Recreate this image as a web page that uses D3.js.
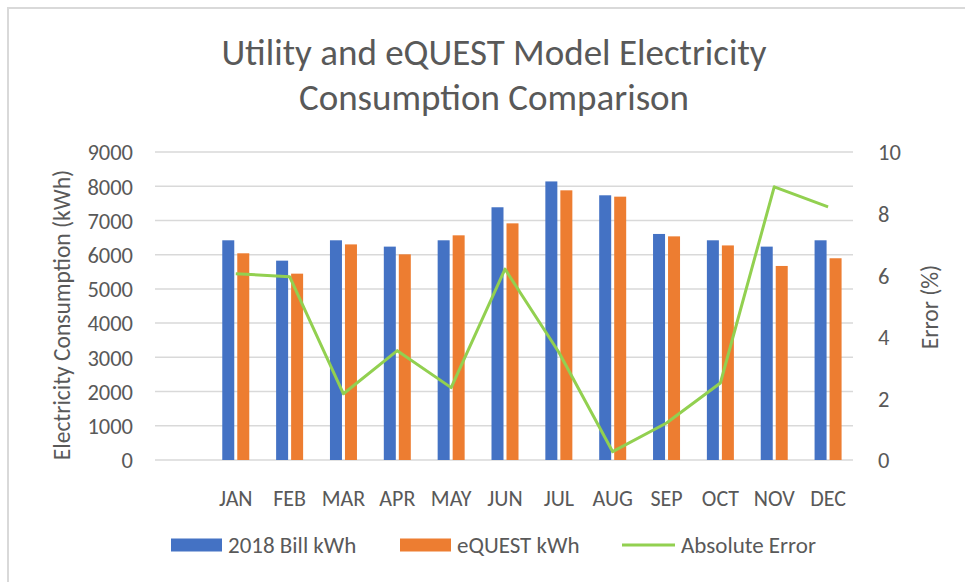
<!DOCTYPE html>
<html>
<head>
<meta charset="utf-8">
<script src="https://cdn.jsdelivr.net/npm/d3@7"></script>
<style>
  body { margin: 0; background: #fff; }
  svg text { font-family: Calibri, Carlito, Lato, sans-serif; fill: #595959; }
</style>
</head>
<body>
<svg id="Chart" width="965" height="582"></svg>
<script>
// data
var months = ["JAN", "FEB", "MAR", "APR", "MAY", "JUN", "JUL", "AUG", "SEP", "OCT", "NOV", "DEC"];
var billKwh = [6420, 5825, 6420, 6235, 6420, 7385, 8140, 7735, 6605, 6420, 6235, 6420];
var equestKwh = [6040, 5445, 6300, 6010, 6565, 6915, 7880, 7695, 6535, 6270, 5670, 5895];
var absError = [6.05, 5.95, 2.15, 3.55, 2.35, 6.2, 3.5, 0.27, 1.2, 2.5, 8.87, 8.22];
var kwhTicks = [0, 1000, 2000, 3000, 4000, 5000, 6000, 7000, 8000, 9000];
var errTicks = [0, 2, 4, 6, 8, 10];

var seriesNames = ["2018 Bill kWh", "eQUEST kWh", "Absolute Error"];
var colors = { bill: "#4472C4", equest: "#ED7D31", err: "#92D050" };

var svg = d3.select("#Chart"),
    width = +svg.attr("width"),
    height = +svg.attr("height");

var plot = { left: 155, right: 855, top: 152, bottom: 460 };

// frame
svg.append("path")
    .attr("d", "M8,582 L8,8 L965,8")
    .attr("fill", "none")
    .attr("stroke", "#D9D9D9")
    .attr("stroke-width", 2);

// the category axis has an empty first slot in the original
var x = d3.scaleBand()
    .domain([""].concat(months))
    .range([plot.left, plot.right]);

var inner = d3.scaleBand()
    .domain(["bill", "equest"])
    .range([-13.5, 13.5])
    .paddingInner(0.2);

var y = d3.scaleLinear().domain([0, 9000]).range([plot.bottom, plot.top]);
var y2 = d3.scaleLinear().domain([0, 10]).range([plot.bottom, plot.top]);

// title
var title = svg.append("text")
    .attr("text-anchor", "middle")
    .style("font-size", "37px");
title.append("tspan").attr("x", 494).attr("y", 65).text("Utility and eQUEST Model Electricity");
title.append("tspan").attr("x", 494).attr("y", 110).text("Consumption Comparison");

// gridlines
svg.append("g")
    .attr("class", "grid")
    .selectAll("line")
    .data(kwhTicks)
    .enter().append("line")
      .attr("x1", plot.left)
      .attr("x2", plot.right - 2)
      .attr("y1", d => y(d))
      .attr("y2", d => y(d))
      .attr("stroke", "#D9D9D9")
      .attr("stroke-width", 1.5);

// left axis
var leftAxis = svg.append("g")
    .attr("transform", "translate(" + (plot.left - 22) + ",0)")
    .call(d3.axisLeft(y).tickValues(kwhTicks).tickFormat(d3.format("d")).tickSize(0).tickPadding(0));
leftAxis.select(".domain").remove();
leftAxis.selectAll("text")
    .attr("dy", "0.35em")
    .style("font-size", "22.5px");

// right axis
var rightAxis = svg.append("g")
    .attr("transform", "translate(" + (plot.right + 23) + ",0)")
    .call(d3.axisRight(y2).tickValues(errTicks).tickFormat(d3.format("d")).tickSize(0).tickPadding(0));
rightAxis.select(".domain").remove();
rightAxis.selectAll("text")
    .attr("dy", "0.35em")
    .style("font-size", "22.5px");

// bottom axis
var bottomAxis = svg.append("g")
    .attr("transform", "translate(0," + plot.bottom + ")")
    .call(d3.axisBottom(x).tickValues(months).tickSize(0).tickPadding(0));
bottomAxis.select(".domain").remove();
bottomAxis.selectAll("text")
    .attr("y", 46)
    .attr("dy", 0)
    .style("font-size", "22px");

// axis titles
svg.append("text")
    .attr("transform", "translate(70,315) rotate(-90)")
    .attr("text-anchor", "middle")
    .style("font-size", "23.5px")
    .text("Electricity Consumption (kWh)");

svg.append("text")
    .attr("transform", "translate(938,307) rotate(-90)")
    .attr("text-anchor", "middle")
    .style("font-size", "23.5px")
    .text("Error (%)");

// bars
var rows = months.map(function (m, i) {
  return { month: m, bill: billKwh[i], equest: equestKwh[i], err: absError[i] };
});

var groups = svg.append("g")
    .selectAll("g")
    .data(rows)
    .enter().append("g")
      .attr("transform", d => "translate(" + (x(d.month) + x.bandwidth() / 2) + ",0)");

groups.selectAll("rect")
    .data(d => [{ key: "bill", value: d.bill }, { key: "equest", value: d.equest }])
    .enter().append("rect")
      .attr("x", d => inner(d.key))
      .attr("width", inner.bandwidth())
      .attr("y", d => y(d.value))
      .attr("height", d => y(0) - y(d.value))
      .attr("fill", d => colors[d.key]);

// error line
var line = d3.line()
    .x(d => x(d.month) + x.bandwidth() / 2)
    .y(d => y2(d.err));

svg.append("path")
    .datum(rows)
    .attr("d", line)
    .attr("fill", "none")
    .attr("stroke", colors.err)
    .attr("stroke-width", 3)
    .attr("stroke-linejoin", "round");

// legend
var legendItems = [
  { name: seriesNames[0], key: "bill", type: "rect", x: 171 },
  { name: seriesNames[1], key: "equest", type: "rect", x: 400 },
  { name: seriesNames[2], key: "err", type: "line", x: 622 }
];

var legend = svg.append("g")
    .selectAll("g")
    .data(legendItems)
    .enter().append("g")
      .attr("transform", d => "translate(" + d.x + ",545)");

legend.filter(d => d.type == "rect")
    .append("rect")
      .attr("x", 0)
      .attr("y", -6.5)
      .attr("width", 51)
      .attr("height", 13)
      .attr("fill", d => colors[d.key]);

legend.filter(d => d.type == "line")
    .append("line")
      .attr("x1", 0)
      .attr("x2", 53)
      .attr("y1", 0)
      .attr("y2", 0)
      .attr("stroke", d => colors[d.key])
      .attr("stroke-width", 3);

legend.append("text")
    .attr("x", d => d.type == "line" ? 59 : 57)
    .attr("y", 8)
    .style("font-size", "23px")
    .text(d => d.name);
</script>
</body>
</html>
